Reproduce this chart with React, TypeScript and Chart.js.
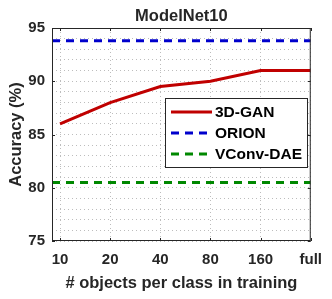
import { useEffect, useRef } from "react";
import { Chart, registerables } from "chart.js";

Chart.register(...registerables);

const categories = ["10", "20", "40", "80", "160", "full"];
const ganValues = [86, 88, 89.5, 90, 91, 91];
const orionValues = [93.8, 93.8];
const vconvValues = [80.5, 80.5];
const yTickLabels = [75, 80, 85, 90, 95];
const seriesNames = ["3D-GAN", "ORION", "VConv-DAE"];

const X_MIN = -0.16;
const X_MAX = categories.length - 1;
const FONT = "'Liberation Sans', Arial, Helvetica, sans-serif";
const RED = "#c00000";
const BLUE = "#0000cc";
const GREEN = "#008800";
const BOX = "#262626";
const DASH = [8, 6];
const GRID = "#bdbdbd";

const decor = {
  id: "decor",
  afterDatasetsDraw(chart: any) {
    const { ctx, chartArea: a, scales } = chart;
    const x = scales.x;
    const y = scales.y;
    ctx.save();
    ctx.strokeStyle = BOX;
    ctx.lineWidth = 1;
    ctx.setLineDash([]);
    ctx.strokeRect(a.left + 0.5, a.top + 0.5, a.right - a.left - 1, a.bottom - a.top - 1);
    ctx.beginPath();
    yTickLabels.forEach((v) => {
      const py = Math.round(y.getPixelForValue(v)) + 0.5;
      ctx.moveTo(a.left, py);
      ctx.lineTo(a.left + 3, py);
      ctx.moveTo(a.right, py);
      ctx.lineTo(a.right - 3, py);
    });
    categories.forEach((_, i) => {
      const px = Math.round(x.getPixelForValue(i)) + 0.5;
      ctx.moveTo(px, a.bottom);
      ctx.lineTo(px, a.bottom - 3);
      ctx.moveTo(px, a.top);
      ctx.lineTo(px, a.top + 3);
    });
    ctx.stroke();

    const lx = 165, ly = 98, lw = 142, lh = 69;
    ctx.fillStyle = "#ffffff";
    ctx.fillRect(lx, ly, lw, lh);
    ctx.strokeStyle = BOX;
    ctx.strokeRect(lx + 0.5, ly + 0.5, lw, lh);
    const colors = [RED, BLUE, GREEN];
    const dashes = [[], DASH, DASH];
    ctx.font = `bold 15.5px ${FONT}`;
    ctx.textAlign = "left";
    ctx.textBaseline = "middle";
    seriesNames.forEach((name, i) => {
      const ry = 112 + i * 21;
      ctx.strokeStyle = colors[i];
      ctx.lineWidth = 3;
      ctx.setLineDash(dashes[i]);
      ctx.beginPath();
      ctx.moveTo(171, ry);
      ctx.lineTo(212, ry);
      ctx.stroke();
      ctx.fillStyle = "#000000";
      ctx.fillText(name, 215, ry + 1);
    });
    ctx.setLineDash([]);

    ctx.fillStyle = "#262626";
    ctx.font = `bold 16.5px ${FONT}`;
    ctx.textAlign = "center";
    ctx.textBaseline = "middle";
    const cx = (a.left + a.right) / 2;
    ctx.fillText("ModelNet10", cx, 16);
    ctx.fillText("# objects per class in training", cx, 283);
    ctx.translate(16, (a.top + a.bottom) / 2);
    ctx.rotate(-Math.PI / 2);
    ctx.fillText("Accuracy (%)", 0, 0);
    ctx.restore();
  },
};

export default function App() {
  const ref = useRef<HTMLCanvasElement>(null);
  useEffect(() => {
    if (!ref.current) return;
    const chart = new Chart(ref.current, {
      type: "line",
      data: {
        datasets: [
          {
            label: seriesNames[0],
            data: ganValues.map((v, i) => ({ x: i, y: v })),
            borderColor: RED,
            borderWidth: 3,
            pointRadius: 0,
            tension: 0,
          },
          {
            label: seriesNames[1],
            data: orionValues.map((v, i) => ({ x: i === 0 ? X_MIN : X_MAX, y: v })),
            borderColor: BLUE,
            borderWidth: 3,
            borderDash: DASH,
            pointRadius: 0,
          },
          {
            label: seriesNames[2],
            data: vconvValues.map((v, i) => ({ x: i === 0 ? X_MIN : X_MAX, y: v })),
            borderColor: GREEN,
            borderWidth: 3,
            borderDash: DASH,
            pointRadius: 0,
          },
        ],
      },
      options: {
        responsive: false,
        animation: false,
        devicePixelRatio: 1,
        layout: { padding: { top: 28, right: 18, left: 0, bottom: 0 } },
        plugins: { legend: { display: false }, tooltip: { enabled: false }, title: { display: false } },
        scales: {
          x: {
            type: "linear",
            min: X_MIN,
            max: X_MAX,
            afterBuildTicks: (s: any) => {
              s.ticks = categories.map((_, i) => ({ value: i }));
            },
            afterFit: (s: any) => {
              s.height = 58;
            },
            ticks: {
              autoSkip: false,
              maxRotation: 0,
              padding: 10,
              color: "#262626",
              font: { family: FONT, size: 15, weight: "bold" },
              callback: (v: any) => categories[Math.round(Number(v))] ?? "",
            },
            grid: { color: GRID, drawTicks: false, lineWidth: 1 },
            border: { display: false, dash: [1, 3] },
          },
          y: {
            type: "linear",
            min: yTickLabels[0],
            max: yTickLabels[yTickLabels.length - 1],
            afterBuildTicks: (s: any) => {
              const t = [];
              for (let v = yTickLabels[0]; v <= yTickLabels[yTickLabels.length - 1]; v++) t.push({ value: v });
              s.ticks = t;
            },
            afterFit: (s: any) => {
              s.width = 52;
            },
            ticks: {
              autoSkip: false,
              padding: 7,
              color: "#262626",
              font: { family: FONT, size: 15, weight: "bold" },
              callback: (v: any) => (yTickLabels.includes(Number(v)) ? String(v) : ""),
            },
            grid: { color: GRID, drawTicks: false, lineWidth: 1 },
            border: { display: false, dash: [1, 3] },
          },
        },
      },
      plugins: [decor],
    } as any);
    return () => chart.destroy();
  }, []);
  return (
    <div style={{ position: "fixed", left: 0, top: 0, width: 332, height: 299, background: "#fff" }}>
      <canvas ref={ref} width={332} height={299} />
    </div>
  );
}
